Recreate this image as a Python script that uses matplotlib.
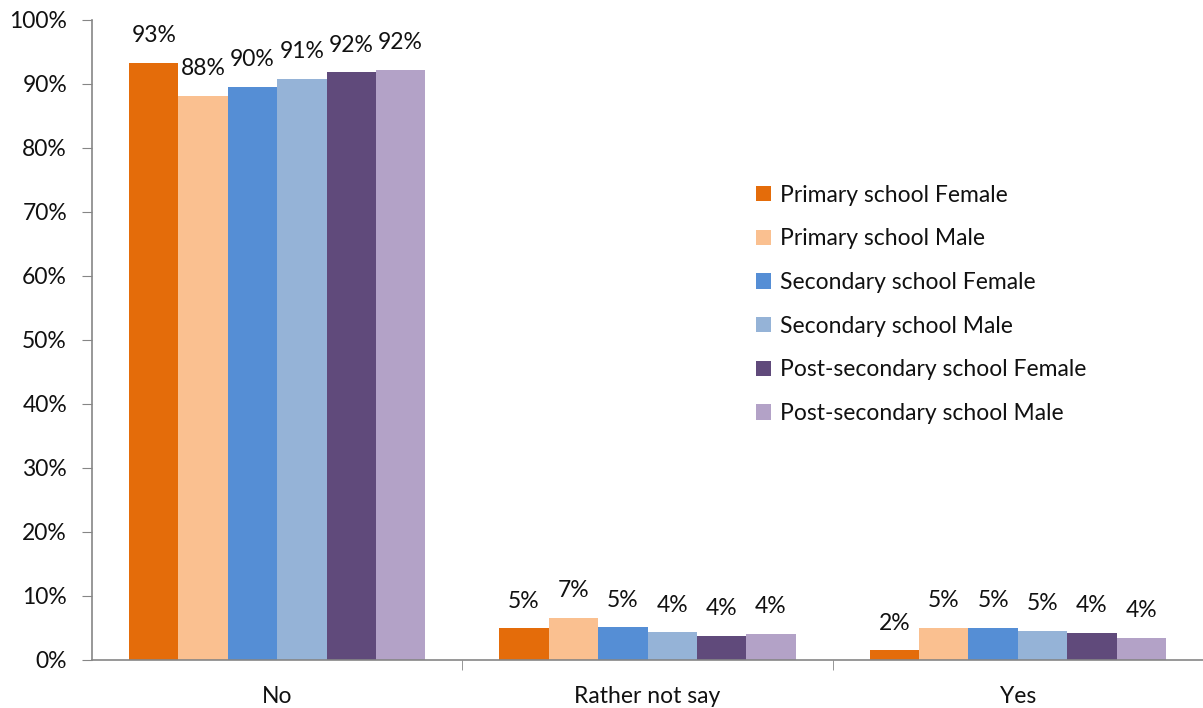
import matplotlib
matplotlib.use("Agg")
import matplotlib.pyplot as plt
import numpy as np

plt.rcParams['font.family'] = ['Lato', 'DejaVu Sans']

categories = ["No", "Rather not say", "Yes"]
series_names = [
    "Primary school Female",
    "Primary school Male",
    "Secondary school Female",
    "Secondary school Male",
    "Post-secondary school Female",
    "Post-secondary school Male",
]
primary_female = [93.3, 4.95, 1.5]
primary_male = [88.1, 6.6, 5.0]
secondary_female = [89.6, 5.1, 5.0]
secondary_male = [90.8, 4.3, 4.6]
post_female = [91.8, 3.8, 4.2]
post_male = [92.2, 4.1, 3.5]
series_values = [primary_female, primary_male, secondary_female,
                 secondary_male, post_female, post_male]
colors = ['#E46C0A', '#FAC090', '#558ED5', '#95B3D7', '#604A7B', '#B3A2C7']

FS = 16.5

fig = plt.figure(figsize=(12.03, 7.08), dpi=100)
ax = fig.add_axes([92 / 1203, 48 / 708, 1111 / 1203, 640 / 708])

x = np.arange(len(categories))
n = len(series_values)
width = 0.8 / n
for i, (vals, name, c) in enumerate(zip(series_values, series_names, colors)):
    pos = x - 0.4 + width * (i + 0.5)
    ax.bar(pos, vals, width=width, color=c, label=name, linewidth=0)
    for xp, v in zip(pos, vals):
        ax.annotate(f"{round(v)}%", (xp, v), xytext=(0, 12), textcoords='offset points',
                    ha='center', va='bottom', fontsize=FS, color='#111111')

ax.set_ylim(0, 100)
ax.set_xlim(-0.5, 2.5)
ax.set_yticks(np.arange(0, 101, 10))
ax.set_yticklabels([f"{t}%" for t in range(0, 101, 10)], fontsize=FS)
ax.set_xticks(x)
ax.set_xticklabels(categories, fontsize=FS)
ax.tick_params(axis='x', length=0, pad=19)
ax.set_xticks([0.5, 1.5], minor=True)
ax.tick_params(axis='x', which='minor', length=7, color='#868686')
ax.tick_params(axis='y', length=7, color='#868686', pad=11, labelcolor='#111111')
ax.tick_params(axis='x', labelcolor='#111111')

for s in ['top', 'right']:
    ax.spines[s].set_visible(False)
for s in ['left', 'bottom']:
    ax.spines[s].set_color('#868686')
    ax.spines[s].set_linewidth(1.2)

fig.legend(loc='upper left', bbox_to_anchor=(735 / 1203, 1 - 164 / 708),
           frameon=False, fontsize=FS, handlelength=0.65, handleheight=0.65,
           handletextpad=0.4, labelspacing=0.99, labelcolor='#111111')

fig.savefig("out.png", dpi=100)
